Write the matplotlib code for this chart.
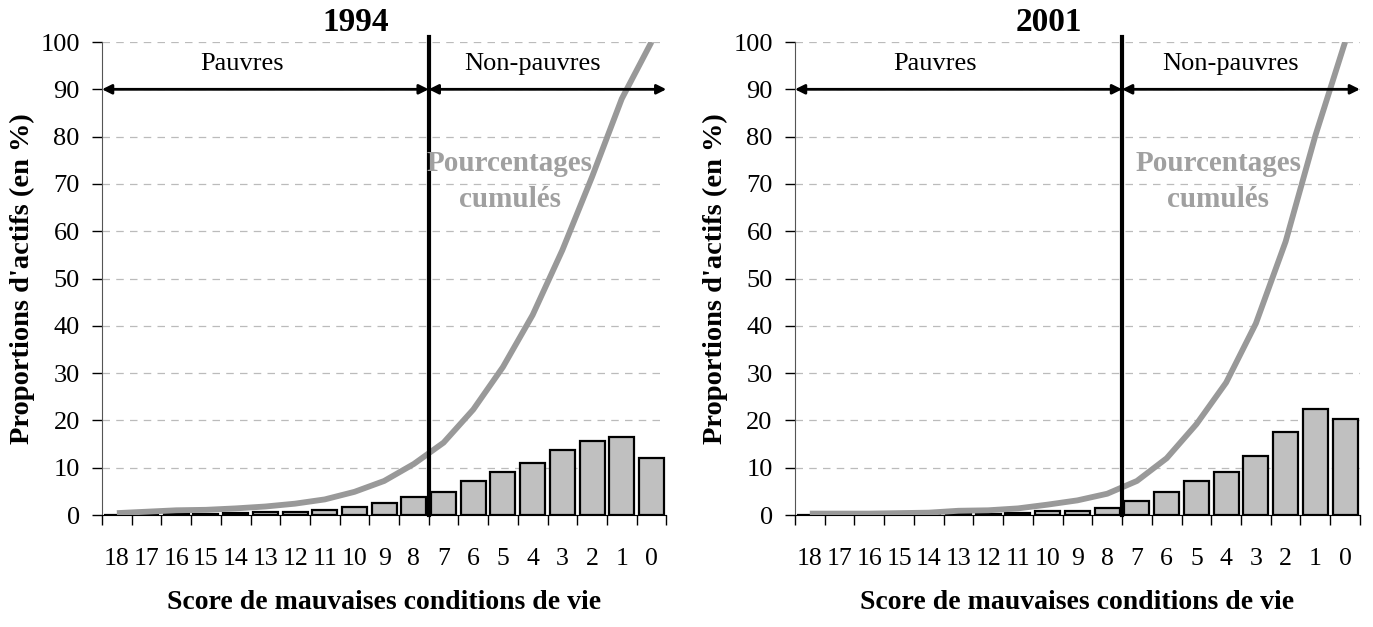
import matplotlib
matplotlib.use("Agg")
import matplotlib.pyplot as plt
import numpy as np

plt.rcParams['font.family'] = ['Liberation Serif', 'DejaVu Serif']

scores = ["18", "17", "16", "15", "14", "13", "12", "11", "10", "9", "8",
          "7", "6", "5", "4", "3", "2", "1", "0"]

bars_1994 = [0.1, 0.1, 0.2, 0.2, 0.4, 0.6, 0.6, 1.1, 1.6, 2.5, 3.8,
             4.8, 7.1, 9.1, 11.0, 13.7, 15.6, 16.5, 12.0]
cum_1994 = [0.4, 0.7, 1.0, 1.1, 1.4, 1.8, 2.4, 3.3, 4.9, 7.2, 10.8,
            15.3, 22.3, 31.3, 42.3, 56.0, 71.5, 88.0, 100.0]

bars_2001 = [0.0, 0.0, 0.05, 0.05, 0.1, 0.3, 0.2, 0.4, 0.8, 0.9, 1.4,
             2.9, 4.9, 7.2, 9.1, 12.4, 17.5, 22.5, 20.2]
cum_2001 = [0.3, 0.3, 0.3, 0.4, 0.5, 0.9, 1.0, 1.4, 2.2, 3.1, 4.5,
            7.2, 12.0, 19.2, 28.0, 40.5, 57.8, 80.2, 100.0]

years = ["1994", "2001"]
poverty_threshold_label = "8"
ylabel = "Proportions d'actifs (en %)"
xlabel = "Score de mauvaises conditions de vie"

fig = plt.figure(figsize=(13.73, 6.27), dpi=100)
axes_rects = [[0.0743, 0.1786, 0.411, 0.7544], [0.579, 0.1786, 0.4115, 0.7544]]
cum_text_x = [13.22, 13.74]
pauvres_x = [4.21, 4.21]
nonpauvres_x = [13.98, 14.15]

for k, (bars, cum) in enumerate([(bars_1994, cum_1994), (bars_2001, cum_2001)]):
    ax = fig.add_axes(axes_rects[k])
    x = np.arange(len(scores))
    ax.set_axisbelow(True)
    ax.bar(x, bars, width=0.84, color="#C0C0C0", edgecolor="black", linewidth=1.6, zorder=2)
    ax.plot(x, cum, color="#999999", linewidth=4.2, zorder=3, solid_capstyle="butt")
    ax.set_xlim(-0.5, len(scores) - 0.5)
    ax.set_ylim(0, 100)
    thr = scores.index(poverty_threshold_label) + 0.5
    ax.plot([thr, thr], [0, 101], color="black", linewidth=3, zorder=4, clip_on=False)
    ax.annotate("", xy=(-0.5, 90), xytext=(thr, 90),
                arrowprops=dict(arrowstyle="<|-|>", color="black", lw=2, mutation_scale=14,
                                shrinkA=0, shrinkB=0), zorder=5)
    ax.annotate("", xy=(thr, 90), xytext=(len(scores) - 0.5, 90),
                arrowprops=dict(arrowstyle="<|-|>", color="black", lw=2, mutation_scale=14,
                                shrinkA=0, shrinkB=0), zorder=5)
    ax.text(pauvres_x[k], 95.4, "Pauvres", ha="center", va="center", fontsize=19)
    ax.text(nonpauvres_x[k], 95.4, "Non-pauvres", ha="center", va="center", fontsize=19)
    ax.text(cum_text_x[k], 70.5, "Pourcentages\ncumulés", ha="center", va="center", fontsize=21,
            fontweight="bold", color="#A0A0A0", linespacing=1.45, zorder=6)

    ax.set_yticks(np.arange(0, 101, 10))
    ax.yaxis.grid(True, color="#BBBBBB", linestyle=(0, (6, 5)), linewidth=0.9)
    ax.set_xticks(x)
    ax.set_xticklabels(scores)
    ax.set_xticks(np.arange(-0.5, len(scores), 1.0), minor=True)
    ax.tick_params(axis="x", which="major", length=0, pad=24, labelsize=18.5)
    ax.tick_params(axis="x", which="minor", length=7, width=1, direction="out")
    ax.tick_params(axis="y", which="major", length=7, width=1, direction="out", labelsize=19, pad=9)
    for s in ["top", "right"]:
        ax.spines[s].set_visible(False)
    ax.spines["left"].set_color("#555555")
    ax.spines["bottom"].set_color("black")
    ax.text(0.45, 1.042, years[k], transform=ax.transAxes, ha="center", va="center",
            fontsize=24, fontweight="bold")
    ax.set_ylabel(ylabel, fontsize=20.5, fontweight="bold", labelpad=4)
    ax.set_xlabel(xlabel, fontsize=20, fontweight="bold", labelpad=14)

fig.savefig("out.png", dpi=100)
